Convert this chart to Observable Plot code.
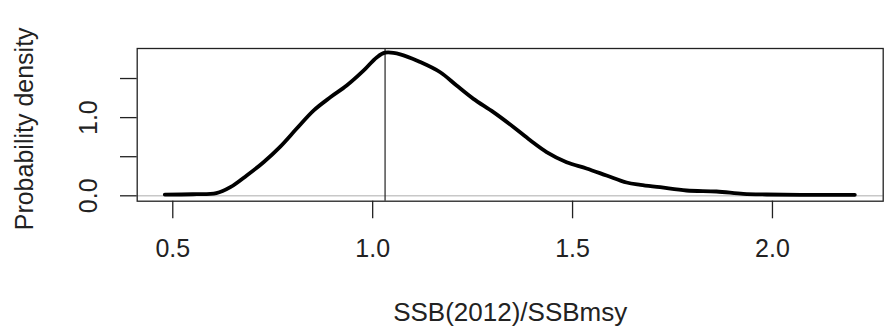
<!DOCTYPE html>
<html>
<head>
<meta charset="utf-8">
<script src="https://cdn.jsdelivr.net/npm/d3@7"></script>
<script src="https://cdn.jsdelivr.net/npm/@observablehq/plot@0.6"></script>
<style>
  html, body { margin: 0; padding: 0; background: #ffffff; }
  svg { display: block; }
</style>
</head>
<body>
<div id="chart"></div>
<script>
// Density curve
const ratio = [0.48, 0.55, 0.609, 0.644, 0.685, 0.727, 0.769, 0.81, 0.852, 0.894, 0.935, 0.977, 1.01, 1.031, 1.069, 1.119, 1.169, 1.21, 1.252, 1.302, 1.352, 1.394, 1.435, 1.485, 1.535, 1.585, 1.635, 1.67, 1.719, 1.785, 1.86, 1.927, 1.985, 2.07, 2.206];
const density = [0.016, 0.02, 0.033, 0.11, 0.26, 0.43, 0.63, 0.86, 1.09, 1.26, 1.41, 1.60, 1.77, 1.83, 1.81, 1.71, 1.58, 1.41, 1.24, 1.07, 0.88, 0.71, 0.56, 0.43, 0.35, 0.26, 0.17, 0.14, 0.11, 0.068, 0.055, 0.025, 0.017, 0.013, 0.013];
const refValue = [1.031];
const xTicks = [0.5, 1.0, 1.5, 2.0];
const yTicks = [0, 0.5, 1.0, 1.5];
const yLabelTicks = [0, 1.0];
const xTitle = "SSB(2012)/SSBmsy";
const yTitle = "Probability density";

const curve = ratio.map((r, i) => ({r, d: density[i]}));
const font = "'Liberation Sans', Arial, sans-serif";

const chart = Plot.plot({
  width: 887,
  height: 333,
  marginLeft: 136.7,
  marginRight: 4.3,
  marginTop: 48,
  marginBottom: 132.3,
  style: {fontFamily: font, fontSize: "25px", background: "#ffffff", color: "#222"},
  x: {domain: [0.411, 2.277]},
  y: {domain: [-0.069, 1.884]},
  marks: [
    Plot.ruleY([0], {stroke: "#c8c8c8", strokeWidth: 1.5}),
    Plot.ruleX(refValue, {stroke: "#222", strokeWidth: 1.2}),
    Plot.line(curve, {x: "r", y: "d", stroke: "#000", strokeWidth: 3.8, curve: "catmull-rom"}),
    Plot.frame({stroke: "#222", strokeWidth: 1.3}),
    Plot.axisX({ticks: xTicks, tickSize: 17.6, tickPadding: 20, tickFormat: d3.format(".1f"), stroke: "#222", strokeWidth: 1.3, label: null, fill: "#222"}),
    Plot.axisY({ticks: yTicks, tickSize: 16.7, tickFormat: () => "", stroke: "#222", strokeWidth: 1.3, label: null}),
    Plot.text(yLabelTicks, {y: d => d, text: d => d3.format(".1f")(d), frameAnchor: "left", dx: -48.7, rotate: -90, textAnchor: "middle", lineAnchor: "middle", fill: "#222", fontSize: 25}),
    Plot.text([yTitle], {text: d => d, frameAnchor: "left", dx: -112.7, dy: 4, rotate: -90, textAnchor: "middle", lineAnchor: "middle", fill: "#222", fontSize: 25}),
    Plot.text([xTitle], {text: d => d, frameAnchor: "bottom", dy: 111, textAnchor: "middle", lineAnchor: "middle", fill: "#222", fontSize: 26})
  ]
});
document.getElementById("chart").append(chart);
</script>
</body>
</html>
